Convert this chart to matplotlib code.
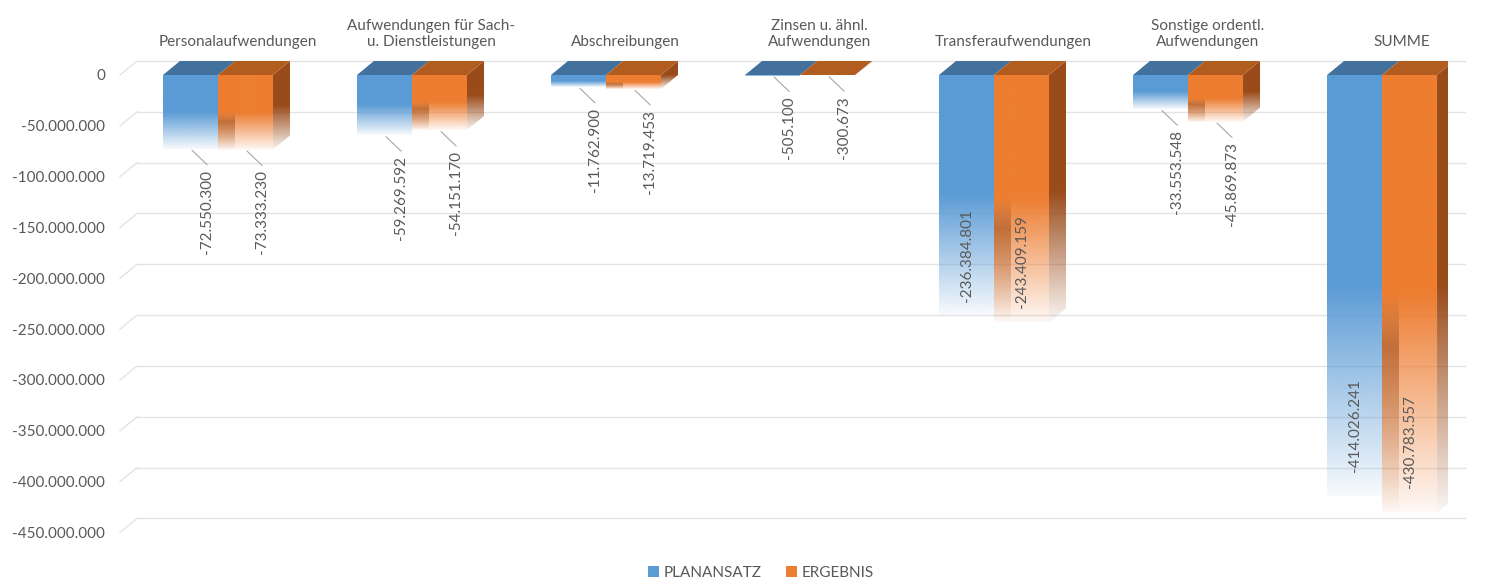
import matplotlib
matplotlib.use('Agg')
import matplotlib.pyplot as plt
import numpy as np
from matplotlib.patches import Polygon, Patch
from matplotlib.colors import to_rgb

categories = ['Personalaufwendungen', 'Aufwendungen für Sach-\nu. Dienstleistungen', 'Abschreibungen',
              'Zinsen u. ähnl.\nAufwendungen', 'Transferaufwendungen', 'Sonstige ordentl.\nAufwendungen', 'SUMME']
planansatz = [-72550300, -59269592, -11762900, -505100, -236384801, -33553548, -414026241]
ergebnis = [-73333230, -54151170, -13719453, -300673, -243409159, -45869873, -430783557]
series_names = ['PLANANSATZ', 'ERGEBNIS']
yticks = np.arange(0, -450000001, -50000000)

front_cols = ['#5b9bd5', '#ed7d31']
top_cols = ['#41719c', '#b35c20']
side_col = '#9a4b1a'
TXT = '#595959'
GRID = '#e4e4e4'

plt.rcParams['font.family'] = ['Lato', 'DejaVu Sans']


def de_fmt(v):
    return f'{int(v):,}'.replace(',', '.')


W, H = 1485, 578
fig = plt.figure(figsize=(W / 100, H / 100), dpi=100)
# plot box in pixels: left 120, right 1448, top 60, bottom 540
ax = fig.add_axes([120 / W, (H - 540) / H, (1448 - 120) / W, (540 - 60) / H])
px_per_val = 1.0166e-6
xlim = (-0.505, 6.34)
ylim = (-(540 - 75) / px_per_val, (75 - 60) / px_per_val)

# 3d depth offset (17px right, 14px up) in data units
px_per_cat = (1448 - 120) / (xlim[1] - xlim[0])
dx = 17 / px_per_cat
dy = 14 / px_per_val
width = 55 / px_per_cat


def fade_fill(poly_xy, color, y_top, y_bot, z, alpha=None):
    poly = Polygon(poly_xy, closed=True, facecolor='none', edgecolor='none')
    ax.add_patch(poly)
    t = np.linspace(0, 1, 300)
    if alpha is None:
        alpha = np.where(t < 0.5, 1.0, 1 - 0.95 * (t - 0.5) / 0.5)
    else:
        alpha = alpha(t)
    img = np.zeros((300, 1, 4))
    img[:, 0, :3] = to_rgb(color)
    img[:, 0, 3] = alpha
    xs = [p[0] for p in poly_xy]
    im = ax.imshow(img, extent=(min(xs), max(xs), y_bot, y_top), origin='upper',
                   aspect='auto', interpolation='bilinear', zorder=z)
    im.set_clip_path(poly)


def shadow_alpha(t):
    # brownish reflection that appears in the faded lower half
    a = np.interp(t, [0, 0.5, 0.62, 1.0], [0, 0, 0.55, 0.0])
    return a


# back wall gridlines
for t in yticks:
    ax.plot([xlim[0], xlim[0] + dx], [t, t + dy], color=GRID, lw=1, clip_on=False, zorder=0)
    ax.plot([xlim[0] + dx, xlim[1] + dx], [t + dy, t + dy], color=GRID, lw=1, clip_on=False, zorder=0)

x = np.arange(len(categories))
for i in x:
    for s, vals in enumerate([planansatz, ergebnis]):
        v = vals[i]
        x0 = i - width + s * width
        x1 = x0 + width
        # front face
        fade_fill([(x0, 0), (x1, 0), (x1, v), (x0, v)], front_cols[s], 0, v, 3)
        if s == 1:
            fade_fill([(x0, 0), (x0 + dx, 0), (x0 + dx, v), (x0, v)], side_col, 0, v, 3.5,
                      alpha=shadow_alpha)
        # top face
        ax.add_patch(Polygon([(x0, 0), (x1, 0), (x1 + dx, dy), (x0 + dx, dy)],
                             closed=True, facecolor=top_cols[s], edgecolor='none', zorder=4))
        if s == 1:
            fade_fill([(x1, 0), (x1 + dx, dy), (x1 + dx, v + dy), (x1, v)], side_col, dy, v, 2)
        xc = (x0 + x1) / 2
        if abs(v) > 150e6:
            ax.text(xc, v * 0.943, de_fmt(v), rotation=90, ha='center', va='bottom',
                    fontsize=11, color=TXT, zorder=6)
        else:
            ax.annotate(de_fmt(v), xy=(xc, v), xytext=(12.2, -15), textcoords='offset points',
                        rotation=90, ha='center', va='top', fontsize=11, color=TXT, zorder=6)
            ax.annotate('', xy=(xc, v), xytext=(12, -11.5), textcoords='offset points',
                        arrowprops=dict(arrowstyle='-', color='#a6a6a6', lw=0.8,
                                        shrinkA=0, shrinkB=1.5), zorder=6)

ax.set_xlim(*xlim)
ax.set_ylim(*ylim)
ax.set_yticks(yticks, [de_fmt(t) for t in yticks])
ax.set_xticks(x + 0.1, categories)
ax.xaxis.tick_top()
ax.tick_params(axis='y', length=0, pad=10.8, labelsize=11, labelcolor=TXT)
ax.tick_params(axis='x', length=0, pad=8, labelsize=11, labelcolor=TXT)
for sp in ax.spines.values():
    sp.set_visible(False)

handles = [Patch(facecolor=c, edgecolor='none') for c in front_cols]
fig.legend(handles, series_names, loc='center', bbox_to_anchor=(761 / W, 5 / H), ncol=2,
           frameon=False, handlelength=0.7, handleheight=0.7, handletextpad=0.3,
           columnspacing=1.6, fontsize=11, labelcolor=TXT)

fig.savefig('out.png', dpi=100)
